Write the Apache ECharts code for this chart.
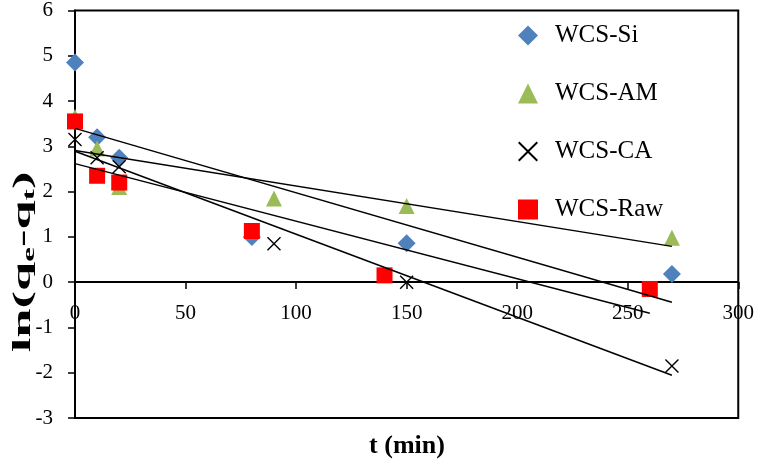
<!DOCTYPE html>
<html><head><meta charset="utf-8">
<script src="https://cdn.jsdelivr.net/npm/echarts@6/dist/echarts.min.js"></script>
<style>html,body{margin:0;padding:0;background:#fff}#c{width:757px;height:467px}</style>
</head><body><div id="c"></div>
<script>
// ---- data ----
const seriesNames = ['WCS-Si', 'WCS-AM', 'WCS-CA', 'WCS-Raw'];
const tSi  = [0, 10, 20, 80, 150, 270];
const vSi  = [4.85, 3.2, 2.75, 1.0, 0.86, 0.18];
const tAM  = [0, 10, 20, 90, 150, 270];
const vAM  = [3.65, 2.95, 2.1, 1.85, 1.68, 0.98];
const tCA  = [0, 10, 20, 90, 150, 270];
const vCA  = [3.15, 2.75, 2.55, 0.85, 0.0, -1.85];
const tRaw = [0, 10, 20, 80, 140, 260];
const vRaw = [3.55, 2.35, 2.2, 1.13, 0.15, -0.15];
const xTicks = [0, 50, 100, 150, 200, 250, 300];
const yTicks = [-3, -2, -1, 0, 1, 2, 3, 4, 5, 6];
const xTitle = 't (min)';

// ---- helpers ----
const FONT = '"Liberation Serif", "Times New Roman", serif';
function pairs(t, v) { return t.map((x, i) => [x, v[i]]); }
function linFit(t, v) {
  const n = t.length;
  const mt = t.reduce((a, b) => a + b, 0) / n;
  const mv = v.reduce((a, b) => a + b, 0) / n;
  let sxy = 0, sxx = 0;
  for (let i = 0; i < n; i++) { sxy += (t[i] - mt) * (v[i] - mv); sxx += (t[i] - mt) * (t[i] - mt); }
  const b = sxy / sxx, a = mv - b * mt;
  const t0 = Math.min(...t), t1 = Math.max(...t);
  return [[t0, a + b * t0], [t1, a + b * t1]];
}
const XPATH = 'path://M0,0.7L0.7,0L5,4.3L9.3,0L10,0.7L5.7,5L10,9.3L9.3,10L5,5.7L0.7,10L0,9.3L4.3,5Z';

const sets = [
  { name: seriesNames[0], t: tSi, v: vSi, symbol: 'diamond', size: 18, color: '#4F81BD' },
  { name: seriesNames[1], t: tAM, v: vAM, symbol: 'triangle', size: 16, color: '#9BBB59' },
  { name: seriesNames[2], t: tCA, v: vCA, symbol: XPATH, size: 14, color: '#000000' },
  { name: seriesNames[3], t: tRaw, v: vRaw, symbol: 'rect', size: 16, color: '#FF0000' }
];

const series = [];
sets.forEach(s => {
  series.push({
    name: s.name, type: 'scatter', data: pairs(s.t, s.v),
    symbol: s.symbol, symbolSize: s.size,
    itemStyle: { color: s.color, opacity: 1 }, z: 2
  });
});
sets.forEach(s => {
  series.push({
    name: s.name + ' fit', type: 'line', data: linFit(s.t, s.v),
    showSymbol: false, symbol: 'none', silent: true,
    lineStyle: { color: '#000', width: 1.5 }, z: 3
  });
});

// layout
const gridTop = 10, gridBottom = 49, H = 467;
const plotH = H - gridTop - gridBottom;
const yMin = yTicks[0], yMax = yTicks[yTicks.length - 1];
const xAxisOffset = -plotH * (0 - yMin) / (yMax - yMin); // x-axis crosses at y = 0

const chart = echarts.init(document.getElementById('c'), null, { renderer: 'canvas' });
chart.setOption({
  animation: false,
  backgroundColor: '#fff',
  grid: { left: 75, right: 17, top: gridTop, bottom: gridBottom, show: true, borderColor: '#000', borderWidth: 2, backgroundColor: 'transparent' },
  legend: {
    data: seriesNames, orient: 'vertical', left: 513, top: 18,
    itemWidth: 20, itemHeight: 20, itemGap: 33,
    textStyle: { fontFamily: FONT, fontSize: 25, color: '#000', padding: [0, 0, 0, 12] }
  },
  xAxis: {
    type: 'value', position: 'bottom', offset: xAxisOffset,
    min: xTicks[0], max: xTicks[xTicks.length - 1], interval: xTicks[1] - xTicks[0],
    axisLine: { onZero: false, lineStyle: { color: '#000', width: 2 } },
    axisTick: { show: true, inside: false, length: 7, lineStyle: { color: '#000', width: 1.5 } },
    axisLabel: { fontFamily: FONT, fontSize: 21, color: '#000', margin: 21 },
    splitLine: { show: false }
  },
  yAxis: {
    type: 'value', min: yMin, max: yMax, interval: 1,
    axisLine: { show: true, onZero: false, lineStyle: { color: '#000', width: 2 } },
    axisTick: { show: true, inside: false, length: 7, lineStyle: { color: '#000', width: 1.5 } },
    axisLabel: { fontFamily: FONT, fontSize: 21, color: '#000', margin: 22 },
    splitLine: { show: false }
  },
  graphic: [
    {
      type: 'text', x: 24, y: 262, rotation: Math.PI / 2, scaleX: 2.1, scaleY: 1,
      style: {
        text: '{b|ln(q}{s|e}{b|-q}{s|t}{b|)}',
        align: 'center', verticalAlign: 'middle', fill: '#000',
        rich: {
          b: { fontFamily: FONT, fontSize: 25, fontWeight: 'bold', lineHeight: 28, verticalAlign: 'middle', fill: '#000' },
          s: { fontFamily: FONT, fontSize: 16, fontWeight: 'bold', lineHeight: 18, verticalAlign: 'bottom', fill: '#000' }
        }
      }
    },
    {
      type: 'text', x: 407, y: 446,
      style: { text: xTitle, fontFamily: FONT, fontSize: 26, fontWeight: 'bold', fill: '#000', align: 'center', verticalAlign: 'middle' }
    }
  ],
  series: series
});
</script>
</body></html>
